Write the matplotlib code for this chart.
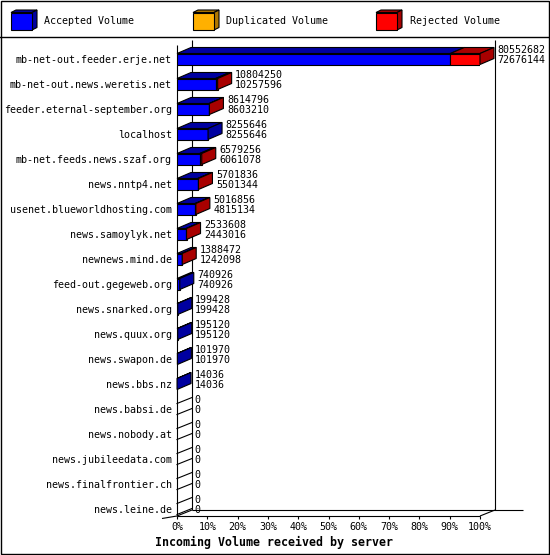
import matplotlib
matplotlib.use("Agg")
import matplotlib.pyplot as plt
from matplotlib.patches import Polygon, Rectangle

# ---------------- data ----------------
servers = [
    "mb-net-out.feeder.erje.net",
    "mb-net-out.news.weretis.net",
    "feeder.eternal-september.org",
    "localhost",
    "mb-net.feeds.news.szaf.org",
    "news.nntp4.net",
    "usenet.blueworldhosting.com",
    "news.samoylyk.net",
    "newnews.mind.de",
    "feed-out.gegeweb.org",
    "news.snarked.org",
    "news.quux.org",
    "news.swapon.de",
    "news.bbs.nz",
    "news.babsi.de",
    "news.nobody.at",
    "news.jubileedata.com",
    "news.finalfrontier.ch",
    "news.leine.de",
]
offered = [80552682, 10804250, 8614796, 8255646, 6579256, 5701836, 5016856,
           2533608, 1388472, 740926, 199428, 195120, 101970, 14036,
           0, 0, 0, 0, 0]
accepted = [72676144, 10257596, 8603210, 8255646, 6061078, 5501344, 4815134,
            2443016, 1242098, 740926, 199428, 195120, 101970, 14036,
            0, 0, 0, 0, 0]
legend_labels = ["Accepted Volume", "Duplicated Volume", "Rejected Volume"]
xtick_values = list(range(0, 101, 10))
xtick_labels = [f"{v}%" for v in xtick_values]
xlabel = "Incoming Volume received by server"

# ---------------- style ----------------
FONT = "DejaVu Sans Mono"
plt.rcParams["font.family"] = [FONT, "DejaVu Sans"]
FS = 7.2
LW = 0.8
front_cols = ["#0000ff", "#ffb000", "#ff0000"]
dark_cols = ["#0000a0", "#b07800", "#a80000"]

W, H = 550, 555
fig = plt.figure(figsize=(W / 100, H / 100), dpi=100)
fig.patch.set_facecolor("white")

# decoration layer in pixel coordinates (frame + legend)
deco = fig.add_axes([0, 0, 1, 1])
deco.set_xlim(0, W)
deco.set_ylim(H, 0)
deco.axis("off")
deco.add_patch(Rectangle((0.5, 0.5), W - 1.8, H - 1.8, fill=False, ec="black", lw=1.0))
deco.plot([0, W], [36.5, 36.5], color="black", lw=1.0)

leg_x = [11, 193, 376]
for i, lab in enumerate(legend_labels):
    x0, y0, w, h, ddx, ddy = leg_x[i], 12.5, 21, 17.5, 5, 2.5
    deco.add_patch(Polygon([(x0, y0), (x0 + w, y0), (x0 + w + ddx, y0 - ddy), (x0 + ddx, y0 - ddy)],
                           closed=True, fc=dark_cols[i], ec="black", lw=LW))
    deco.add_patch(Polygon([(x0 + w, y0), (x0 + w, y0 + h), (x0 + w + ddx, y0 + h - ddy),
                            (x0 + w + ddx, y0 - ddy)], closed=True, fc=dark_cols[i], ec="black", lw=LW))
    deco.add_patch(Rectangle((x0, y0), w, h, fc=front_cols[i], ec="black", lw=LW))
    deco.text(x0 + 33.5, 21, lab, fontsize=FS, va="center", ha="left")

# ---------------- main axes ----------------
L_PX, R_PX, T_PX, B_PX = 177, 480, 40, 516
ROW0, STEP = 59, 25
ax = fig.add_axes([L_PX / W, 1 - B_PX / H, (R_PX - L_PX) / W, (B_PX - T_PX) / H])
ylo = (B_PX - ROW0) / STEP
yhi = (T_PX - ROW0) / STEP
ax.set_xlim(0, 100)
ax.set_ylim(ylo, yhi)
ax.patch.set_visible(False)
for s in ax.spines.values():
    s.set_visible(False)

px_x = 100 / (R_PX - L_PX)
px_y = 1 / STEP
BDX, BDY = 14 * px_x, 6 * px_y
WDX, WDY = 15 * px_x, 6 * px_y
BH = 11 * px_y

kw = dict(color="black", lw=LW, clip_on=False, zorder=1, solid_capstyle="butt")
ax.plot([0, 0], [ylo, (45 - ROW0) / STEP], **kw)
ax.plot([WDX, WDX], [ylo - WDY, yhi], **kw)
ax.plot([100 + WDX, 100 + WDX], [ylo - WDY, yhi], **kw)
ax.plot([WDX, 100 + 43 * px_x], [ylo - WDY, ylo - WDY], **kw)
ax.plot([0, 100], [ylo, ylo], **kw)
ax.plot([100, 100 + WDX], [ylo, ylo - WDY], **kw)
ax.plot([0, WDX], [ylo, ylo - WDY], **kw)
ax.plot([-15 * px_x, 0], [ylo + 2.5 * px_y, ylo], **kw)

maxv = max(offered)
for i in range(len(servers)):
    y = i
    top, bot = y - BH / 2, y + BH / 2
    pa = accepted[i] / maxv * 100
    pt = offered[i] / maxv * 100
    rej = offered[i] - accepted[i]
    if offered[i] == 0:
        for yy in (top, bot):
            ax.plot([0, WDX], [yy, yy - BDY], color="black", lw=LW, zorder=3, clip_on=False)
    else:
        ax.barh(y, pa, height=BH, color=front_cols[0], ec="black", lw=LW, zorder=3)
        ax.add_patch(Polygon([(0, top), (pa, top), (pa + BDX, top - BDY), (BDX, top - BDY)],
                             closed=True, fc=dark_cols[0], ec="black", lw=LW, zorder=3, clip_on=False))
        side_col = dark_cols[0]
        if rej > 0:
            ax.barh(y, pt - pa, left=pa, height=BH, color=front_cols[2], ec="black", lw=LW, zorder=3)
            ax.add_patch(Polygon([(pa, top), (pt, top), (pt + BDX, top - BDY), (pa + BDX, top - BDY)],
                                 closed=True, fc=dark_cols[2], ec="black", lw=LW, zorder=3, clip_on=False))
            side_col = dark_cols[2]
        ax.add_patch(Polygon([(pt, top), (pt, bot), (pt + BDX, bot - BDY), (pt + BDX, top - BDY)],
                             closed=True, fc=side_col, ec="black", lw=LW, zorder=3, clip_on=False))
    ax.annotate(f"{offered[i]}\n{accepted[i]}", xy=(pt + BDX, y), xytext=(3.5, 4),
                textcoords="offset pixels", va="center", ha="left", fontsize=FS,
                linespacing=1.1, annotation_clip=False, zorder=4)

ax.set_xticks(xtick_values, xtick_labels)
ax.tick_params(axis="x", length=3 * 0.72, width=LW, pad=2, labelsize=FS, direction="out")
ax.set_yticks(range(len(servers)), servers)
ax.tick_params(axis="y", length=0, pad=3.6, labelsize=FS)

fig.text(155 / W, 1 - 542.5 / H, xlabel, fontweight="bold", fontsize=8.4, va="center", ha="left")

fig.savefig("out.png", dpi=100)
